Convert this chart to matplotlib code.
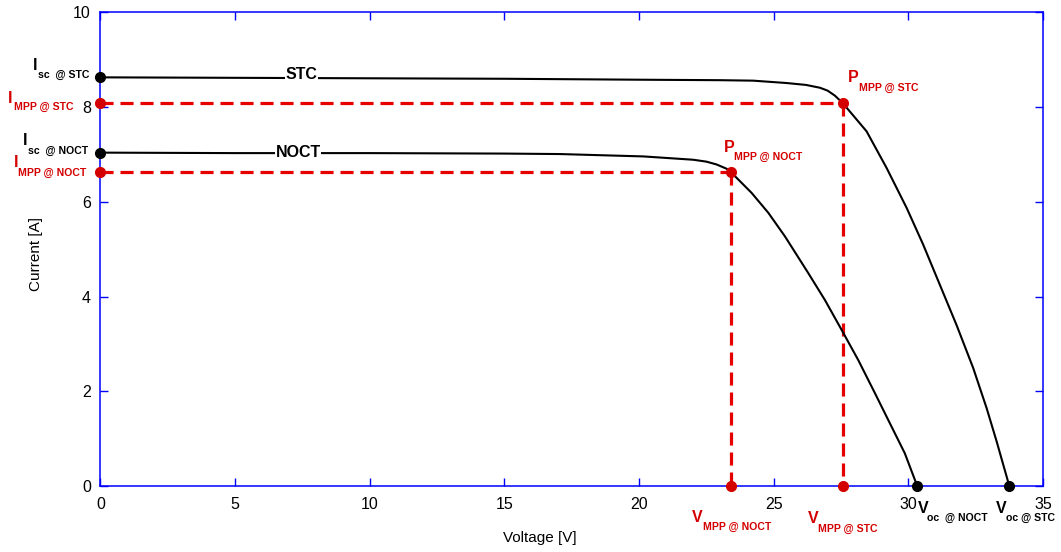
import matplotlib
matplotlib.use("Agg")
import matplotlib.pyplot as plt

plt.rcParams['font.family'] = ['Liberation Sans', 'DejaVu Sans']
plt.rcParams['lines.scale_dashes'] = False

# I-V curves
stc_v = [0, 5, 10, 15, 20, 23.01, 24.24, 25.48, 26.2, 26.72, 27.0, 27.27, 27.56,
         28.45, 29.19, 29.94, 30.55, 31.17, 31.79, 32.41, 32.91, 33.28, 33.75]
stc_i = [8.63, 8.62, 8.61, 8.60, 8.58, 8.57, 8.56, 8.51, 8.47, 8.41, 8.35, 8.245, 8.09,
         7.49, 6.72, 5.87, 5.10, 4.25, 3.40, 2.49, 1.64, 0.94, 0.0]
noct_v = [0, 5, 10, 15, 17.06, 20.16, 22.01, 22.5, 22.88, 23.25, 23.41,
          24.18, 24.8, 25.42, 26.28, 26.9, 27.52, 28.14, 28.76, 29.38, 29.87, 30.33]
noct_i = [7.04, 7.03, 7.03, 7.02, 7.01, 6.96, 6.89, 6.85, 6.79, 6.70, 6.63,
          6.19, 5.77, 5.27, 4.50, 3.93, 3.30, 2.66, 1.96, 1.25, 0.69, 0.0]

# key points
isc = {'STC': 8.63, 'NOCT': 7.04}
voc = {'STC': 33.75, 'NOCT': 30.33}
mpp = {'STC': (27.56, 8.09), 'NOCT': (23.41, 6.63)}

red = '#d40000'
dash_red = '#e60000'

fig = plt.figure(figsize=(10.61, 5.52), dpi=100)
ax = fig.add_axes([0.0947, 0.1196, 0.8883, 0.8578])

ax.plot(stc_v, stc_i, color='black', lw=1.5, zorder=3)
ax.plot(noct_v, noct_i, color='black', lw=1.5, zorder=3)

for key in ['STC', 'NOCT']:
    vm, im = mpp[key]
    ax.plot([0, vm], [im, im], color=dash_red, lw=2.3, ls=(0, (9.4, 5.0)), zorder=2, clip_on=False)
    ax.plot([vm, vm], [im, 0], color=dash_red, lw=2.3, ls=(0, (9.4, 5.0)), zorder=2, clip_on=False)
    ax.plot([0], [isc[key]], 'o', color='black', ms=7, zorder=5, clip_on=False)
    ax.plot([voc[key]], [0], 'o', color='black', ms=7, zorder=5, clip_on=False)
    ax.plot([0, vm, vm], [im, im, 0], 'o', color=red, ms=7, lw=0, zorder=5, clip_on=False)

# curve names sitting on the lines
ax.text(7.45, 8.68, 'STC', fontsize=11.5, fontweight='bold', ha='center', va='center',
        bbox=dict(facecolor='white', edgecolor='none', pad=0.5), zorder=4)
ax.text(7.34, 7.05, 'NOCT', fontsize=11.5, fontweight='bold', ha='center', va='center',
        bbox=dict(facecolor='white', edgecolor='none', pad=0.5), zorder=4)


def sub_label(main, sub, xm, ym, xs, ys, color):
    ax.text(xm, ym, main, fontsize=11.5, fontweight='bold', color=color,
            ha='left', va='baseline', clip_on=False)
    ax.text(xs, ys, sub, fontsize=7.6, fontweight='bold', color=color,
            ha='left', va='baseline', clip_on=False)


sub_label('I', 'sc  @ STC', -2.51, 8.78, -2.32, 8.61, 'black')
sub_label('I', 'MPP @ STC', -3.45, 8.09, -3.21, 7.95, red)
sub_label('I', 'sc  @ NOCT', -2.89, 7.21, -2.69, 7.02, 'black')
sub_label('I', 'MPP @ NOCT', -3.22, 6.74, -3.06, 6.55, red)
sub_label('P', 'MPP @ STC', 27.76, 8.54, 28.18, 8.35, red)
sub_label('P', 'MPP @ NOCT', 23.15, 7.06, 23.54, 6.89, red)
sub_label('V', 'MPP @ NOCT', 21.96, -0.76, 22.37, -0.93, red)
sub_label('V', 'MPP @ STC', 26.27, -0.78, 26.64, -0.97, red)
sub_label('V', 'oc  @ NOCT', 30.36, -0.57, 30.69, -0.74, 'black')
sub_label('V', 'oc @ STC', 33.25, -0.57, 33.62, -0.74, 'black')

ax.set_xlim(0, 35)
ax.set_ylim(0, 10)
ax.set_xticks([0, 5, 10, 15, 20, 25, 30, 35])
ax.set_yticks([0, 2, 4, 6, 8, 10])
for s in ax.spines.values():
    s.set_color('#0000ff')
    s.set_linewidth(1.1)
ax.tick_params(direction='in', length=5.5, width=1, color='#0000ff', labelcolor='black',
               labelsize=11.5, top=True, right=True)
ax.tick_params(axis='x', pad=8)
ax.tick_params(axis='y', pad=7)

ax.set_xlabel('Voltage [V]', fontsize=11)
ax.xaxis.set_label_coords(0.466, -0.095)
ax.set_ylabel('Current [A]', fontsize=11)
ax.yaxis.set_label_coords(-0.061, 0.49)

fig.savefig('out.png', dpi=100)
